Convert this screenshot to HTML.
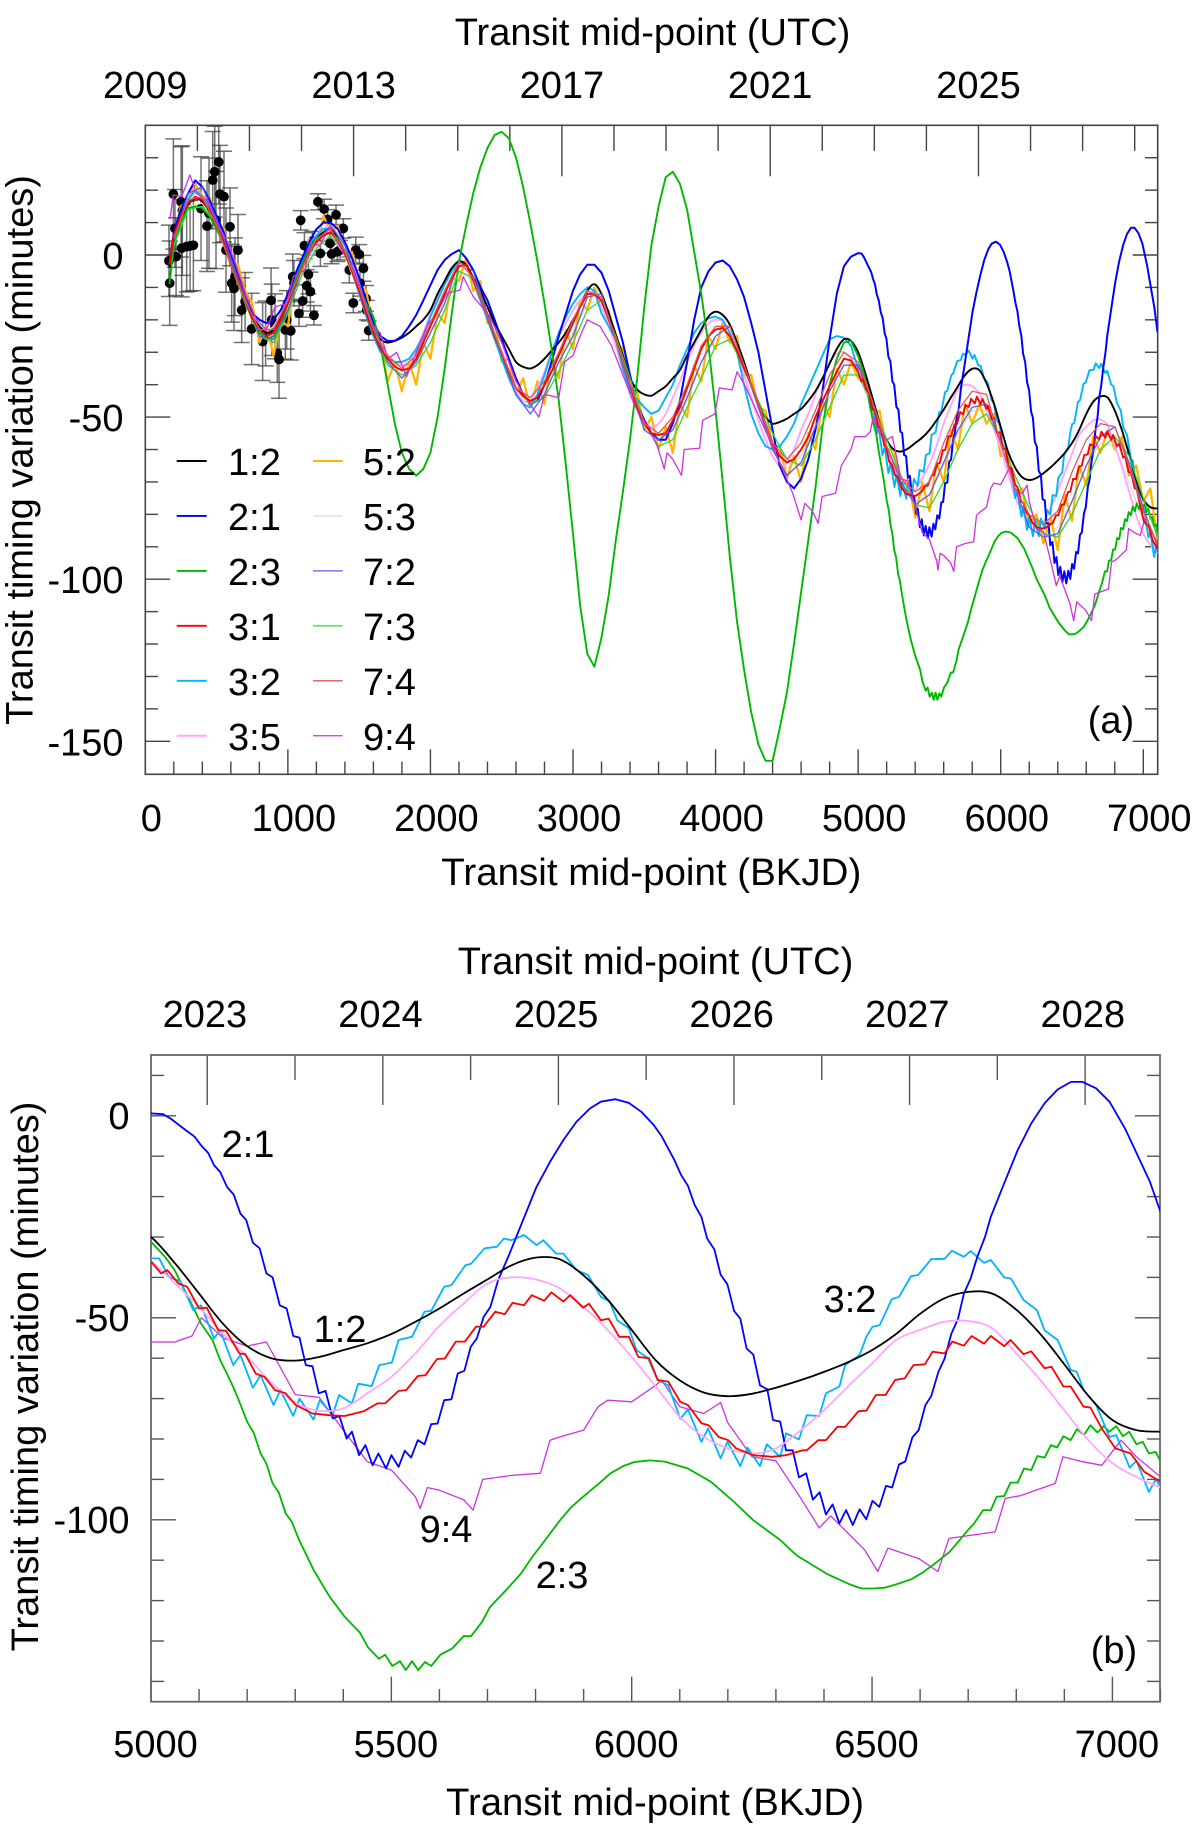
<!DOCTYPE html>
<html lang="en">
<head>
<meta charset="utf-8">
<title>Transit timing variation</title>
<style>
html,body{margin:0;padding:0;background:#fff;}
#wrap{width:1200px;height:1825px;overflow:hidden;position:relative;background:#fff;}
svg{display:block;}
text{font-family:"Liberation Sans",Arial,sans-serif;font-size:38px;fill:#000;}
</style>
</head>
<body>
<div id="wrap">
<svg id="fig" width="1200" height="1825" viewBox="0 0 1200 1825" xmlns="http://www.w3.org/2000/svg">
  <defs>
    <clipPath id="clipA"><rect x="145.3" y="125.3" width="1012.4" height="649"/></clipPath>
    <clipPath id="clipB"><rect x="151" y="1055" width="1009" height="646.7"/></clipPath>
  </defs>
  <rect width="1200" height="1825" fill="#fff"/>
  <g id="panelA">
    <g id="axesA"></g>
    <g id="pointsA" clip-path="url(#clipA)"></g>
    <g id="linesA" clip-path="url(#clipA)"></g>
    <g id="legendA"></g>
    <text x="652.5" y="45" text-anchor="middle">Transit mid-point (UTC)</text>
    <text x="656" y="885" text-anchor="middle" textLength="420" lengthAdjust="spacingAndGlyphs" transform="translate(-4.7,0)">Transit mid-point (BKJD)</text>
    <text transform="translate(32.7,450) rotate(-90)" text-anchor="middle">Transit timing variation (minutes)</text>
    <text x="1111" y="733" text-anchor="middle">(a)</text>
  </g>
  <g id="panelB">
    <g id="axesB"></g>
    <g id="linesB" clip-path="url(#clipB)"></g>
    <text x="655.5" y="974" text-anchor="middle">Transit mid-point (UTC)</text>
    <text x="655" y="1815" text-anchor="middle" textLength="418" lengthAdjust="spacingAndGlyphs">Transit mid-point (BKJD)</text>
    <text transform="translate(38,1376.5) rotate(-90)" text-anchor="middle">Transit timing variation (minutes)</text>
    <text x="1114" y="1663" text-anchor="middle">(b)</text>
    <text x="248" y="1157" text-anchor="middle">2:1</text>
    <text x="340" y="1342" text-anchor="middle">1:2</text>
    <text x="850" y="1312" text-anchor="middle">3:2</text>
    <text x="446" y="1542" text-anchor="middle">9:4</text>
    <text x="562" y="1588" text-anchor="middle">2:3</text>
  </g>
</svg>
</div>
<script>
// ---- Observed transits ----
const obsDays=[171,166,197,251,260,216,208,255,290,314,337,391,447,433,473,487,515,524,552,496,566,650,594,606,622,629,676,700,746,823,882,926,938,844,887,910,982,1020,992,1078,1104,1183,1158,1144,1034,1043,1132,1090,1116,1172,1211,1254,1279,1338,1228,1307,1347,1366,1296,1389,1476,1501,1431,1530,1459,1548,1553,1567,1506];
const obsTTV=[-8.7,-1.8,18.8,16.4,13.7,-0.5,8.2,2.1,2.6,2.8,3,14.3,12.9,8.9,23.1,25.7,28.7,18.8,18,10.8,1.5,1.5,8.7,-8.7,-10.3,-6.7,-17,-14.4,-22.8,-26.7,-14,-30.3,-32.2,-24.2,-20,-22,-23.1,-23.4,-20,-18,-14.2,-18.6,-11.3,-6,-6.7,-8.7,-9.5,10.7,2.9,4.3,16.4,14.2,11,12.4,0.5,0.3,1,1.5,3.6,8.2,1.5,0.2,-4.6,-4.1,-14.8,-13.4,-17,-23.3,-8.7];
const obsErr=[13,11,17,17,20,12,12,15,14,14,14,16,17,14,15,14,13,15,14,15,13,11,12,12,13,12,10,9,11,12,10,9,12,10,11,10,9,9,9,4,5,3,6,6,7,7,5,3,4,3,2.5,3,3,3,4,3,3,3,3,3,4,3,4,4,3,4,3,3,4];

// ---- Models on a coarse grid: first value at day 170, then every 50 days from 200 ----
const values12=[-4,5,11.5,15.5,17.5,16.5,13.5,8.5,4,-3,-8,-14,-19,-22,-24,-23,-19,-14,-8,-3,2,5,7,8,5,1,-4,-10,-17,-23,-26,
-27,-26.5,-25.5,-24,-22,-20,-17,-12,-8,-4,-2,-3,-7,-11,-16,-21,-25,-29,-33,-34.5,
-35,-34,-32,-29.5,-27,-24,-20,-16,-11,-9,
-12,-18,-24.5,-31,-38,-41.5,-43,-43.4,-42,-40.5,-38,-35.5,-31,-27,-23,-19,-17.5,-18.5,-21.5,-27,
-33,-40,-46,-50,-52,-51.5,-50.5,-49,-47.5,-45,-42,-38,-33.5,-29,-26,-26.5,
-30,-36.5,-44,-51.5,-57,-60,-60.6,-59.7,-58,-56.3,-54,-51,-47.7,-44,-40.5,-37,-35.1,-35.5,-39.5,-45.5,-53,-60.5,-65.5,-68.5,-69.4,-68.8,-67.3,-65.5,-63.4,-61,-58,-54,-49,-45.2,-43.6,-44,-48,-54,-61.5,-69.3,-75.3,-77.8,-78.2];
const values35=[-3,6,12,17,19,18,15,10,5,-2,-7,-13,-18,-21,-23,-22,-18,-13,-7,-2,3,6,8,9,6,2,-3,-9,-16,-23,-28,
-31,-33,-34,-33,-29,-24,-18,-13,-8,-4,-2,-3,-8,-13,-19,-25,-31,-37,-42,-45,
-45,-41,-36,-30,-25,-21,-17,-14,-12,-12,
-16,-22,-28,-36,-43,-48,-51,-53,-52,-49,-44,-39,-33,-28,-24,-21,-20,-20.5,-24,-30,
-37,-44,-51,-57,-62,-65,-64,-60,-54,-49,-43,-38,-33,-30.5,-30,-32,
-36,-41.5,-47.3,-54,-59.6,-66,-71,-73,-72.4,-68.7,-64.6,-58.8,-52,-46.5,-41.5,-40,-40.5,-42.7,-47.3,-53,-59.7,-67,-74.5,-79.5,-82.3,-83.6,-82.3,-78,-72.9,-67,-61.3,-55.5,-53,-51,-50.8,-52.6,-58.8,-65.4,-72.9,-80.3,-86,-89.4,-92];

// ---- Models with a coarse part up to day 4950 and finely read stepped part from day 5000 ----
const values21=[-3,7,14,19,23,21,17,12,7,0,-6,-13,-18,-20,-21,-20,-17,-12,-6,-1,4,8,10,10,8,4,-1,-7,-14,-21,-25,
-26.5,-26.5,-25,-22,-18.5,-14,-9.3,-4.6,-1.5,0.3,1.5,-1,-4.6,-9.8,-14,-20,-26,-32,-38,-43,
-46,-45,-40,-33,-25,-18,-11,-6,-3,-3,
-5.5,-11,-19,-27,-37,-46,-51,-55,-57,-57,-52,-45,-33,-20,-10,-5,-2.3,-1.7,-3.5,-7.5,
-13,-21,-30,-42,-54,-65,-70,-72,-69,-63,-54,-42,-26,-12,-3.5,-0.5];
const fineDays21=[5000,5025,5041,5065,5091,5104,5119,5131,5144,5158,5172,5186,5198,5212,5226,5240,5253,5268,5282,5296,5309,5322,5336,5349,5363,5378,5392,5407,5418,5433,5446,5461,5473,5489,5500,5515,5528,5541,5555,5569,5583,5596,5610,5625,5638,5652,5665,5678,5692,5706,5722,5746,5774,5802,5830,5858,5885,5913,5936,5966,5994,6020,6046,6062,6089,6103,6117,6131,6145,6157,6172,6185,6199,6213,6226,6239,6253,6267,6282,6294,6309,6321,6335,6348,6363,6377,6391,6404,6418,6432,6446,6460,6474,6488,6501,6515,6529,6542,6556,6569,6584,6597,6611,6623,6638,6651,6665,6679,6691,6705,6719,6735,6747,6775,6803,6831,6859,6886,6914,6938,6966,6994,7026,7062,7078,7100];
const fineValues21=[0.6,0.4,-0.7,-2.9,-5.2,-7.3,-9.2,-12.2,-13.9,-17.6,-19.5,-24.2,-25.8,-31.4,-32.8,-39,-40,-46.9,-47.7,-54.5,-54.9,-61.7,-62,-68.7,-68.1,-74.9,-74.3,-79.9,-78.2,-84,-81.5,-86.5,-83.6,-87.3,-84,-86.9,-82.9,-84.6,-80.3,-81.3,-76.3,-76.2,-70.4,-70.2,-63.8,-63.1,-57.2,-55.1,-49.8,-47.3,-40.7,-34.1,-25.8,-17.6,-11.4,-6,-1.5,1.8,3.5,4.1,3.2,1,-2.3,-5,-11,-14.7,-17.3,-22.1,-25,-30.4,-33.1,-39.3,-41.7,-48.3,-50.2,-57.6,-59.1,-66.7,-67.7,-75.3,-75.7,-82.8,-82.8,-89.5,-88.5,-95,-93.2,-98.7,-96.2,-100.9,-97.6,-101.3,-97.4,-99.9,-95.3,-96.8,-91.6,-92,-86.3,-85.6,-79.6,-77.8,-71.6,-69.4,-63.4,-60.1,-53.9,-50.2,-44,-40.3,-34.9,-30,-25,-16.7,-8.5,-1.9,3.1,6.5,8.4,8.4,6.8,3.5,-3.1,-12.2,-16.3,-23.8];

const values32=[-5,5,12,17,20,18,15,10,5,-2,-8,-14,-20,-24,-25,-23,-19,-13,-7,-2,3,6,8,8,5,0.5,-5,-12,-19,-25,-30,
-32,-33,-33,-32,-29,-25,-19,-14,-9,-5,-1.5,-3,-8,-14,-20,-26,-32,-38,-43,-46,
-47,-43,-37,-30,-24,-19,-15,-12,-10,-11,
-18,-22,-26,-35,-42,-44.5,-47,-49,-48,-44,-40,-34,-29,-24,-21,-19.5,-19,-20,-24,-30,
-40,-49,-55,-59,-60,-59,-56,-52,-46,-41,-36,-31,-26,-25,-25.5,-28];
const fineDays32=[5000,5017,5037,5061,5088,5104,5131,5144,5171,5186,5212,5228,5255,5269,5296,5309,5338,5351,5378,5391,5418,5431,5459,5475,5501,5515,5543,5569,5583,5610,5625,5654,5666,5694,5720,5734,5750,5776,5802,5816,5843,5858,5885,5909,5936,5954,5970,5994,6010,6034,6054,6076,6101,6117,6145,6159,6185,6199,6226,6241,6267,6281,6309,6321,6348,6364,6390,6404,6432,6444,6474,6488,6501,6516,6541,6556,6581,6596,6623,6651,6666,6691,6705,6733,6747,6775,6789,6815,6843,6859,6886,6913,6926,6940,6966,6994,7008,7036,7050,7076,7090,7100];
const fineValues32=[-35.3,-35.3,-39.9,-41,-48.1,-46.9,-55.1,-53.1,-61.7,-59.2,-67.3,-64.2,-71.6,-67.9,-74.3,-70,-75.2,-70.4,-74.1,-69.1,-71.2,-66.3,-66.9,-61.7,-61.1,-55.5,-54.7,-48.5,-48.3,-42.3,-41.9,-37,-36.6,-32.8,-32.4,-30.4,-30.8,-29.5,-32,-30.8,-34.1,-34.1,-38.2,-39.4,-44.8,-46,-50.6,-52.6,-58,-60,-65.4,-66.7,-75,-72.7,-80.7,-77.4,-84.8,-80.7,-86.7,-82.1,-86.7,-81.3,-84.4,-78.6,-80.1,-74.1,-74.3,-68.7,-67,-61.7,-59.2,-54.7,-52.2,-51.8,-45.4,-44.8,-39.7,-39.4,-35.5,-35.4,-33.4,-34.9,-33.5,-36.4,-35.7,-40,-40.3,-45.6,-48.1,-53.1,-55.5,-62.9,-63.4,-67.9,-71.6,-79.5,-79,-87.1,-85.4,-93.1,-90,-91.8];

const values31=[-3,6,12,16,18,17,14,9,4,-3,-8,-14,-19.5,-23,-25,-24,-20,-15,-9,-4,1,4,6,7,4.5,0.5,-5,-11,-18,-24,-29,
-32,-34.5,-35.5,-35,-32,-27,-22,-17,-12,-7,-3.5,-3,-7.5,-13,-19,-25,-30,-36,-41,-43.5,
-45,-44,-40,-36,-31,-26,-21,-16,-12,-12,
-14,-20,-26,-33,-40,-47,-52,-55,-55.5,-55,-51,-47,-41,-35,-29,-25,-23,-22.5,-25,-29.5,
-35,-40,-46,-52,-58,-62,-64,-63,-60,-56,-50,-45,-40.5,-36,-32,-32.5];
const fineDays31=[5000,5021,5034,5057,5075,5100,5116,5140,5156,5184,5196,5218,5236,5258,5280,5301,5336,5371,5403,5443,5471,5487,5515,5531,5555,5571,5595,5611,5634,5653,5676,5692,5716,5736,5752,5776,5792,5818,5833,5858,5872,5899,5911,5936,5952,5974,5994,6014,6036,6054,6076,6101,6117,6145,6160,6181,6201,6217,6253,6293,6321,6356,6364,6388,6404,6428,6444,6472,6488,6508,6528,6548,6568,6586,6610,6626,6651,6667,6691,6707,6733,6747,6775,6788,6815,6831,6859,6873,6898,6913,6940,6954,6978,7006,7038,7066,7100];
const fineValues31=[-36.1,-39,-38.2,-41.5,-42.3,-47.7,-47.5,-53.1,-53.2,-58.8,-59,-63.8,-64.6,-67.9,-68.7,-71.6,-73.7,-74.1,-74.3,-73.1,-71.2,-71.2,-68.1,-67.9,-64.4,-64.2,-60.2,-60.1,-55.9,-55.9,-52.2,-52.2,-48.5,-49.1,-46.3,-46.9,-44.4,-45.8,-43.7,-46,-44.4,-47.5,-46.5,-50.6,-50.2,-54.7,-54.7,-59.7,-60,-65.4,-65.8,-70.8,-71.6,-76.1,-76.6,-79.5,-80.3,-82.3,-84,-84.4,-84,-82.8,-82.8,-80.3,-80.3,-77,-77,-73.1,-73,-69.1,-69.1,-65.4,-65,-61.7,-61.5,-58.4,-58.8,-55.9,-56.9,-54.5,-56.4,-54.5,-57,-55.5,-59,-58.3,-62.5,-62.1,-67,-67,-72,-72.2,-77.4,-82.3,-83.6,-88.1,-90.6];

const values23=[-9,3,10,14.5,15,14.5,12,8,3.5,-3,-8,-14,-20,-24,-26,-25,-21,-15,-8,-3,2,5,6,7,5,1,-4,-10,-15,-19,-28,
-40,-52,-61,-66,-68,-66,-61,-50,-35,-18,-2,9,19,27,33,37,38,36,30,21,
10,-2,-15,-29,-45,-65,-86,-108,-123,-127,
-118,-105,-88,-73,-57,-38,-16,3,15,24,25.7,22,14,1,-12,-28,-48,-70,-93,-113,
-128,-141,-151,-156,-156,-146,-135,-120,-104,-88,-72,-53,-40,-32,-27,-26.5];
const fineDays23=[5000,5029,5049,5077,5104,5128,5144,5156,5171,5184,5200,5214,5228,5240,5253,5266,5280,5293,5308,5339,5371,5403,5435,5451,5474,5487,5502,5518,5530,5543,5556,5570,5583,5602,5626,5650,5666,5689,5705,5737,5769,5793,5817,5849,5873,5892,5934,5956,5982,6006,6038,6069,6117,6165,6213,6253,6309,6343,6406,6454,6478,6502,6526,6550,6582,6606,6630,6661,6685,6699,6711,6731,6747,6759,6775,6788,6803,6816,6831,6844,6859,6872,6885,6898,6913,6926,6941,6954,6969,6982,6994,7008,7022,7035,7050,7063,7076,7090,7100];
const fineValues23=[-31.2,-34.9,-38.2,-44.8,-51.4,-55.5,-60.5,-63.4,-67.1,-70.8,-75.7,-78.6,-83.6,-86.1,-91,-93.3,-98.4,-100.5,-105,-112.6,-118.9,-124,-128,-131.5,-134.4,-133.4,-136.2,-135,-137.2,-135,-137.2,-135.2,-136.2,-133.4,-131.9,-128.8,-128.8,-125.2,-121.6,-117.6,-113.4,-109.2,-105.5,-100.4,-97,-95,-90.8,-88.5,-86.7,-85.7,-85.3,-85.6,-87.3,-90.6,-95.6,-100.1,-105,-108.8,-113.4,-116,-117,-117,-116.8,-116,-114.7,-113,-110.9,-108,-104.6,-102.6,-101.1,-97.6,-97.6,-94.3,-94.1,-90.8,-90.8,-87.3,-87.7,-84.2,-84.6,-81.5,-82.1,-79.3,-80.3,-77.6,-79,-76.6,-78.4,-76.8,-78.2,-76.8,-79.3,-78.2,-81.3,-80.7,-83.6,-83.2,-85.6];

// ---- 9:4 model has its own irregular sample days ----
const days94=[173,196,255,313,360,430,500,570,640,710,780,850,910,990,1038,1120,1155,1225,1295,1365,1459,1517,1576,1646,1704,1763,1833,1903,1973,2043,2113,2207,2230,2300,2417,2500,2600,2700,2760,2800,2900,2940,3000,3050,3100,3189,3270,3350,3430,3510,3592,3640,3659,3700,3761,3780,3888,3909,3995,4027,4116,4151,4210,4317,4430,4541,4600,4626,4680,4720,4747,4841,4882,4950,4976,5000,5050,5085,5105,5150,5200,5240,5300,5350,5400,5450,5500,5550,5560,5575,5600,5650,5670,5690,5750,5810,5830,5850,5900,5930,5950,6000,6050,6062,6100,6150,6185,6200,6250,6300,6350,6390,6414,6485,6512,6533,6597,6637,6660,6756,6777,6809,6881,6897,6929,6978,7018,7050,7100];
const values94=[11,18.5,18,24.7,19,17,9.8,4.6,-3.6,-12.8,-20,-23,-16,-15,-6.7,-4.6,3.6,3,8.7,2.6,-4.6,-11.8,-21,-24,-32,-30,-37.5,-29.8,-22,-18,-11.8,-10.8,-6.7,-12.8,-19,-27,-39,-46,-50,-43,-44,-33,-31,-25,-20,-22,-28,-37,-46,-52,-59,-66,-61,-63,-68,-60,-59.6,-51,-49,-41,-41.6,-36,-40.6,-51,-62,-73.5,-81.7,-76.6,-79,-82.8,-74.5,-73.5,-65,-60,-56,-56,-56,-54.5,-50,-55,-57,-56,-69,-69.7,-77.8,-85.6,-87.7,-94.3,-97.2,-92,-92.7,-95,-97.6,-90,-89,-88.5,-80.3,-79.5,-77.8,-72,-70.4,-70.8,-66.7,-65.4,-72,-73.7,-71,-76,-84.4,-85.4,-94.3,-102,-99,-107.5,-112.8,-107,-109.6,-112.8,-104.6,-103,-94.7,-94,-91,-84.4,-85.4,-86.5,-80.3,-84.4,-89.4];

// ---- 5:2 model: every 50 days from 200 to 7100 ----
const values52=[6,15,17,22,18,18,10,8,-2,-3,-11,-15,-27,-22,-31,-20,-22,-6,-5,5,3,12,7,9,1,1,-9,-11,-24,-27,-39,-33,-42,-33,-40,-27,-32,-18,-21,-7,-8,-1,-11,-8,-21,-20,-33,-32,-43,-38,-47,-39,-46,-32,-38,-23,-29,-14,-17,-10,-15,-17,-27,-29,-42,-42,-54,-50,-60,-53,-61,-46,-50,-34,-39,-25,-29,-21,-27,-25,-37,-37,-47,-48,-59,-59,-69,-62,-70,-55,-60,-45,-50,-35,-40,-33,-38,-37,-49,-48,-60,-60,-72,-69,-81,-70,-79,-64,-70,-54,-60,-46,-52,-46,-52,-49,-62,-61,-74,-72,-83,-80,-89,-81,-91,-74,-82,-65,-71,-56,-61,-54,-60,-56,-68,-65,-76,-72,-88];

// ---- Secondary models: every 100 days from 200 to 7100 ----
const values53=[4,15,16,9,-3,-14,-23,-25,-16,-5,3,6,0,-12,-24,-33,-36,-33,-24,-14,-5,-8,-20,-32,-42,-46,-42,-33,-24,-15,-14,-26,-41,-53,-57,-54,-45,-33,-26,-25,-35,-47,-59,-66,-62,-53,-44,-36,-37,-47,-60,-71,-76,-74,-65,-55,-48,-48,-60,-73,-83,-86,-84,-76,-65,-58,-59,-70,-82,-92];
const values72=[5,19,21,11,-1,-13,-25,-26,-17,-4,4,9,3,-9,-22,-33,-38,-33,-24,-15,-2,-5,-18,-31,-43,-49,-43,-33,-25,-13,-12,-26,-41,-54,-57,-54,-44,-33,-25,-22,-34,-47,-60,-68,-64,-53,-42,-34,-34,-46,-59,-70,-77,-74,-64,-54,-47,-46,-58,-72,-84,-87,-86,-76,-65,-56,-53,-64,-78,-90];
const values73=[3,14,15,10,-3,-15,-25,-27,-18,-6,2,6,1,-11,-24,-34,-37,-34,-27,-17,-5,-7,-18,-30,-41,-46,-44,-36,-27,-17,-14,-25,-38,-52,-59,-57,-47,-38,-28,-26,-35,-45,-55,-63,-65,-57,-47,-37,-37,-46,-57,-68,-77,-78,-70,-60,-52,-49,-57,-68,-78,-86,-87,-80,-70,-60,-56,-62,-75,-87];
const values74=[5,17,18,9,-3,-14,-23,-23,-14,-4,5,8,1,-10,-23,-31,-35,-31,-21,-11,-2,-7,-19,-30,-41,-44,-39,-30,-20,-11,-13,-26,-40,-52,-55,-50,-40,-28,-22,-22,-34,-46,-58,-63,-58,-48,-37,-30,-33,-45,-59,-69,-73,-70,-58,-48,-42,-43,-58,-72,-80,-83,-79,-67,-57,-52,-53,-65,-79,-89];

// ---- Tick values and labels ----
const xTickLabelsA=[0,1000,2000,3000,4000,5000,6000,7000];
const yTickLabelsA=[0,-50,-100,-150];
const topYearLabelsA=[2009,2013,2017,2021,2025];
const xTickLabelsB=[5000,5500,6000,6500,7000];
const yTickLabelsB=[0,-50,-100];
const topYearLabelsB=[2023,2024,2025,2026,2027,2028];
const legendColumn1=['1:2','2:1','2:3','3:1','3:2','3:5'];
const legendColumn2=['5:2','5:3','7:2','7:3','7:4','9:4'];

const SVGNS='http://www.w3.org/2000/svg';
const colors={'1:2':'#000000','2:1':'#0000ff','2:3':'#00b800','3:1':'#ff0000','3:2':'#00b4ff','3:5':'#ffa6ff','5:2':'#ffb400','5:3':'#dcdcdc','7:2':'#5a5af0','7:3':'#30d830','7:4':'#dc5a5a','9:4':'#cc33dd'};
const widths={'1:2':1.9,'2:1':1.9,'2:3':1.9,'3:1':1.9,'3:2':1.9,'3:5':1.9,'5:2':1.9,'5:3':1.3,'7:2':1.3,'7:3':1.3,'7:4':1.3,'9:4':1.3};

// Axis functions
function xA(d){return 145.3+d*0.14257;}
function yA(v){return 255-v*3.242;}
function xB(d){return 151+(d-5000)*0.4807;}
function yB(v){return 1115.8-v*4.04;}
function yearDay(y){return (y-2009)*365.25;}
function mainDay(i){return i===0?170:150+50*i;}
function day52(i){return 200+50*i;}
function secondaryDay(i){return 200+100*i;}

function seg(parent,x1,y1,x2,y2,w,col,name){
  const el=document.createElementNS(SVGNS,'line');
  el.setAttribute('x1',x1);el.setAttribute('y1',y1);el.setAttribute('x2',x2);el.setAttribute('y2',y2);
  el.setAttribute('stroke',col);el.setAttribute('stroke-width',w);
  
  
  parent.appendChild(el);
}
function label(parent,x,y,str,anchor,name){
  const el=document.createElementNS(SVGNS,'text');
  el.setAttribute('x',x);el.setAttribute('y',y);el.setAttribute('text-anchor',anchor);
  el.textContent=str;
  
  
  parent.appendChild(el);
}
function smoothPath(pts){
  let d='M'+pts[0][0].toFixed(1)+' '+pts[0][1].toFixed(1);
  for(let i=0;i<pts.length-1;i++){
    const p0=pts[Math.max(0,i-1)],p1=pts[i],p2=pts[i+1],p3=pts[Math.min(pts.length-1,i+2)];
    const c1x=p1[0]+(p2[0]-p0[0])/6,c1y=p1[1]+(p2[1]-p0[1])/6,c2x=p2[0]-(p3[0]-p1[0])/6,c2y=p2[1]-(p3[1]-p1[1])/6;
    d+='C'+c1x.toFixed(1)+' '+c1y.toFixed(1)+' '+c2x.toFixed(1)+' '+c2y.toFixed(1)+' '+p2[0].toFixed(1)+' '+p2[1].toFixed(1);
  }
  return d;
}
function straightPath(pts){
  return 'M'+pts.map(function(p){return p[0].toFixed(1)+' '+p[1].toFixed(1);}).join('L');
}
function coarseThenFine(coarse,fineDays){
  const out=[];
  for(let i=0;i<coarse.length;i++){out.push(mainDay(i));}
  return out.concat(fineDays);
}
const days21=coarseThenFine(values21,fineDays21);
const days32=coarseThenFine(values32,fineDays32);
const days31=coarseThenFine(values31,fineDays31);
const days23=coarseThenFine(values23,fineDays23);
const all21=values21.concat(fineValues21);
const all32=values32.concat(fineValues32);
const all31=values31.concat(fineValues31);
const all23=values23.concat(fineValues23);

function drawSeries(parent,key,days,vals,fx,fy,smooth,minDay,widthScale){
  const pts=[];
  for(let i=0;i<vals.length;i++){
    const d=typeof days==='function'?days(i):days[i];
    if(d>=minDay){pts.push([fx(d),fy(vals[i])]);}
  }
  const el=document.createElementNS(SVGNS,'path');
  el.setAttribute('d',smooth?smoothPath(pts):straightPath(pts));
  el.setAttribute('fill','none');
  el.setAttribute('stroke',colors[key]);
  el.setAttribute('stroke-width',widths[key]*widthScale);
  el.setAttribute('stroke-linejoin','round');
  
  
  parent.appendChild(el);
}

// ---- Panel A axes ----
(function(){
  const g=document.getElementById('axesA');
  const L=xA(0),R=1157.7,T=125.3,B=774.3,col='#444',w=1.4;
  for(let d=0;d<=7000;d+=200){
    const major=d%1000===0;
    seg(g,xA(d),B,xA(d),B-(major?25:12.7),w,col,'x-tick');
  }
  for(let y=2009;y<=2028;y++){
    const major=(y-2009)%4===0;
    seg(g,xA(yearDay(y)),T,xA(yearDay(y)),T+(major?51:25.6),w,col,'top-year-tick');
  }
  for(let v=-150;v<=30;v+=10){
    const major=v%50===0;
    const n=major?25:12.7;
    seg(g,L,yA(v),L+n,yA(v),w,col,'y-tick-left');
    seg(g,R,yA(v),R-n,yA(v),w,col,'y-tick-right');
  }
  const box=document.createElementNS(SVGNS,'rect');
  box.setAttribute('x',L);box.setAttribute('y',T);box.setAttribute('width',R-L);box.setAttribute('height',B-T);
  box.setAttribute('fill','none');box.setAttribute('stroke',col);box.setAttribute('stroke-width',1.6);
  
  
  g.appendChild(box);
  xTickLabelsA.forEach(function(t){label(g,xA(t)+6,831,String(t),'middle','x-tick-label');});
  yTickLabelsA.forEach(function(t){label(g,123.5,yA(t)+14,String(t),'end','y-tick-label');});
  topYearLabelsA.forEach(function(t){label(g,xA(yearDay(t)),98,String(t),'middle','top-year-label');});
})();

// ---- Panel A observed points ----
(function(){
  const g=document.getElementById('pointsA');
  for(let i=0;i<obsDays.length;i++){
    const x=xA(obsDays[i]),y=yA(obsTTV[i]),e=obsErr[i]*3.242,col='rgba(60,60,60,0.72)';
    seg(g,x,y-e,x,y+e,1.5,col,'error-bar');
    seg(g,x-8,y-e,x+8,y-e,1.5,col,'error-bar-cap');
    seg(g,x-8,y+e,x+8,y+e,1.5,col,'error-bar-cap');
  }
  for(let i=0;i<obsDays.length;i++){
    const c=document.createElementNS(SVGNS,'circle');
    c.setAttribute('cx',xA(obsDays[i]));c.setAttribute('cy',yA(obsTTV[i]));c.setAttribute('r',4.9);c.setAttribute('fill','#000');
    
    
    g.appendChild(c);
  }
})();

// ---- Panel A series ----
(function(){
  const g=document.getElementById('linesA');
  drawSeries(g,'5:3',secondaryDay,values53,xA,yA,false,0,1);
  drawSeries(g,'5:2',day52,values52,xA,yA,false,0,1.2);
  drawSeries(g,'3:5',mainDay,values35,xA,yA,true,0,1);
  drawSeries(g,'3:2',days32,all32,xA,yA,false,0,1);
  drawSeries(g,'1:2',mainDay,values12,xA,yA,true,0,1);
  drawSeries(g,'2:1',days21,all21,xA,yA,false,0,1.05);
  drawSeries(g,'2:3',days23,all23,xA,yA,false,0,1);
  drawSeries(g,'7:3',secondaryDay,values73,xA,yA,false,0,1);
  drawSeries(g,'7:2',secondaryDay,values72,xA,yA,false,0,1);
  drawSeries(g,'9:4',days94,values94,xA,yA,false,0,1);
  drawSeries(g,'3:1',days31,all31,xA,yA,false,0,1);
  drawSeries(g,'7:4',secondaryDay,values74,xA,yA,false,0,1);
})();

// ---- Legend ----
(function(){
  const g=document.getElementById('legendA');
  function col(names,x1,x2,tx){
    names.forEach(function(n,i){
      const y=461+i*54.95;
      seg(g,x1,y,x2,y,widths[n],colors[n],'legend-line');
      label(g,tx,y+14,n,'start','legend-label');
    });
  }
  col(legendColumn1,176.7,206.7,228);
  col(legendColumn2,313,342.7,363);
})();

// ---- Panel B axes ----
(function(){
  const g=document.getElementById('axesB');
  const L=151,R=1160,T=1055,B=1701.7,col='#555',w=1.4;
  for(let d=5000;d<=7100;d+=100){
    const major=d%500===0;
    seg(g,xB(d),B,xB(d),B-(major?25:12.7),w,col,'x-tick');
  }
  for(let y=2023;y<=2028;y+=0.5){
    const major=y%1===0;
    seg(g,xB(yearDay(y)+3.5),T,xB(yearDay(y)+3.5),T+(major?50:25),w,col,'top-year-tick');
  }
  for(let v=-140;v<=10;v+=10){
    const major=v%50===0;
    const n=major?25:13;
    seg(g,L,yB(v),L+n,yB(v),w,col,'y-tick-left');
    seg(g,R,yB(v),R-n,yB(v),w,col,'y-tick-right');
  }
  const box=document.createElementNS(SVGNS,'rect');
  box.setAttribute('x',L);box.setAttribute('y',T);box.setAttribute('width',R-L);box.setAttribute('height',B-T);
  box.setAttribute('fill','none');box.setAttribute('stroke','#666');box.setAttribute('stroke-width',1.8);
  
  
  g.appendChild(box);
  xTickLabelsB.forEach(function(t){label(g,xB(t)+4.5,1757,String(t),'middle','x-tick-label');});
  yTickLabelsB.forEach(function(t){label(g,129.5,yB(t)+13,String(t),'end','y-tick-label');});
  topYearLabelsB.forEach(function(t){label(g,xB(yearDay(t)+3.5)-2.3,1027,String(t),'middle','top-year-label');});
})();

// ---- Panel B series ----
(function(){
  const g=document.getElementById('linesB');
  drawSeries(g,'9:4',days94,values94,xB,yB,false,4900,1);
  drawSeries(g,'2:3',days23,all23,xB,yB,false,4950,0.95);
  drawSeries(g,'3:2',days32,all32,xB,yB,false,4950,0.95);
  drawSeries(g,'2:1',days21,all21,xB,yB,false,4950,0.95);
  drawSeries(g,'3:5',mainDay,values35,xB,yB,true,4950,0.95);
  drawSeries(g,'3:1',days31,all31,xB,yB,false,4950,0.95);
  drawSeries(g,'1:2',mainDay,values12,xB,yB,true,4950,0.95);
})();
</script>
</body>
</html>
